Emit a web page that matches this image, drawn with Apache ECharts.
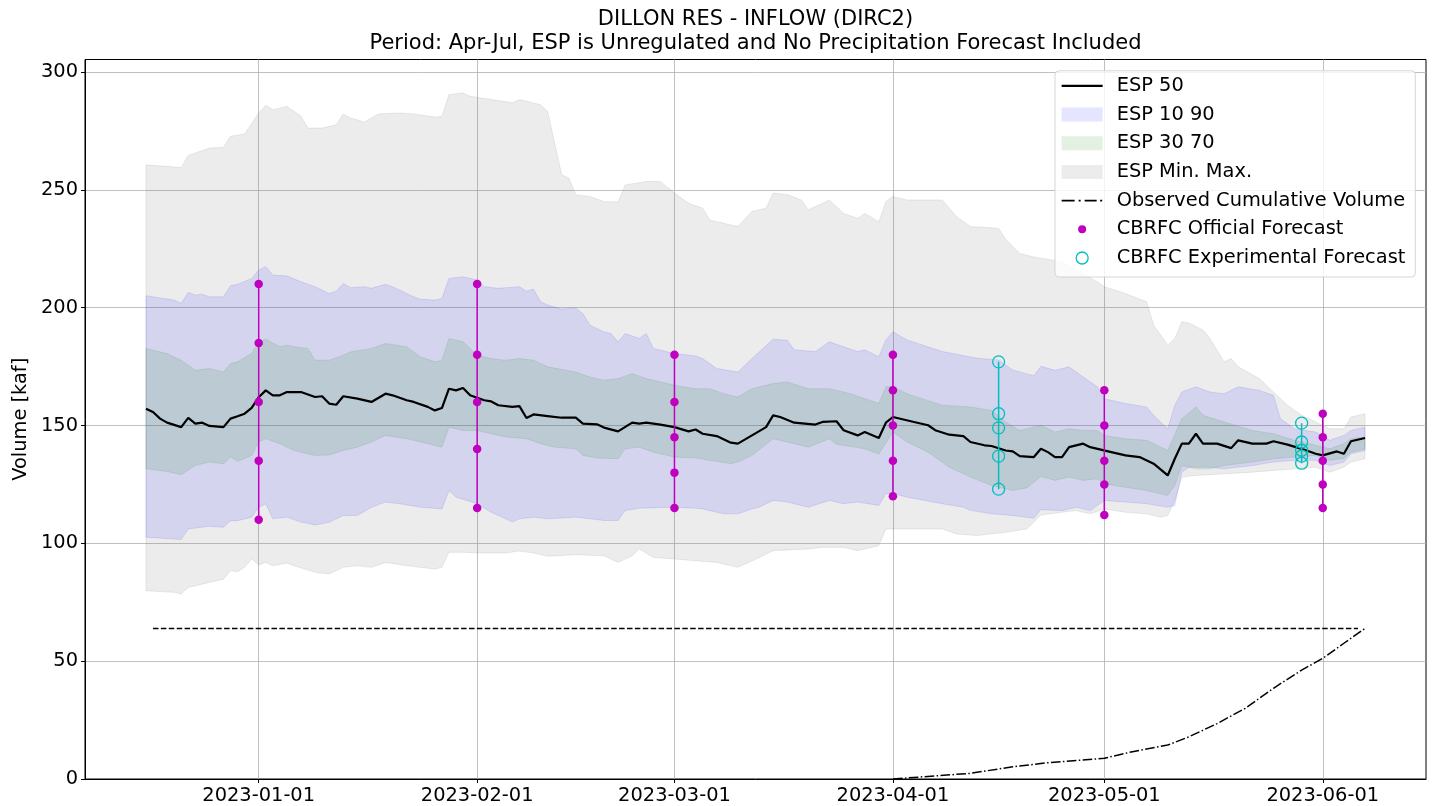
<!DOCTYPE html>
<html><head><meta charset="utf-8">
<script src="https://cdn.jsdelivr.net/npm/echarts@6/dist/echarts.min.js"></script>
<style>html,body{margin:0;padding:0;background:#fff;}#c{width:1433px;height:806px;}</style>
</head><body><div id="c"></div>
<script>
// ---------------- data ----------------
const monthTicks = ['2023-01-01','2023-02-01','2023-03-01','2023-04-01','2023-05-01','2023-06-01'];
const yTicks = [0,50,100,150,200,250,300];

const espMax = [['2022-12-16',260.6],['2022-12-21',259.5],['2022-12-22',264.6],['2022-12-25',267.7],['2022-12-27',268],['2022-12-28',272.7],['2022-12-30',273.7],['2023-01-01',282.6],['2023-01-02',285.9],['2023-01-03',284],['2023-01-05',285.4],['2023-01-06',283.3],['2023-01-07',281.2],['2023-01-08',276.2],['2023-01-10',276.2],['2023-01-12',277.6],['2023-01-13',282.2],['2023-01-14',280.5],['2023-01-16',278.8],['2023-01-18',282.2],['2023-01-21',282.6],['2023-01-23',282.2],['2023-01-26',280.9],['2023-01-27',281.2],['2023-01-28',290.4],['2023-01-30',291.1],['2023-01-31',289.7],['2023-02-03',288.3],['2023-02-06',286.9],['2023-02-07',288.3],['2023-02-10',286.1],['2023-02-11',283.3],['2023-02-13',256.4],['2023-02-14',255],['2023-02-15',247.9],['2023-02-17',247.2],['2023-02-19',245],['2023-02-21',244.8],['2023-02-22',252.1],['2023-02-25',253.5],['2023-02-27',253.5],['2023-03-01',248.6],['2023-03-03',244.3],['2023-03-05',242.2],['2023-03-06',237.2],['2023-03-08',235.8],['2023-03-10',234.4],['2023-03-12',240.8],['2023-03-14',242.2],['2023-03-15',248.6],['2023-03-17',248],['2023-03-19',245.7],['2023-03-20',241.5],['2023-03-23',245.7],['2023-03-25',240],['2023-03-27',237.9],['2023-03-28',240],['2023-03-30',236.5],['2023-03-31',245],['2023-04-01',247.2],['2023-04-03',245.7],['2023-04-08',245.7],['2023-04-10',238.7],['2023-04-12',234.4],['2023-04-16',233.7],['2023-04-17',229],['2023-04-19',223],['2023-04-21',221.5],['2023-04-25',219.5],['2023-04-30',211],['2023-05-01',208.9],['2023-05-04',206],['2023-05-07',202.5],['2023-05-08',192.6],['2023-05-10',184.1],['2023-05-11',186.9],['2023-05-12',194],['2023-05-13',193.5],['2023-05-15',190.5],['2023-05-16',186.9],['2023-05-18',177],['2023-05-19',178.4],['2023-05-20',174.9],['2023-05-23',169.9],['2023-05-25',164.2],['2023-05-27',158.6],['2023-05-29',154.3],['2023-05-31',151.5],['2023-06-02',148.6],['2023-06-04',148.6],['2023-06-05',153.6],['2023-06-07',155]];

const espMin = [['2022-12-16',79.9],['2022-12-20',79.2],['2022-12-21',78.5],['2022-12-22',81.3],['2022-12-25',83.4],['2022-12-27',84.8],['2022-12-28',88.4],['2022-12-29',88],['2022-12-30',89.8],['2022-12-31',93.4],['2023-01-01',90.8],['2023-01-02',91.9],['2023-01-03',90.5],['2023-01-05',91.6],['2023-01-06',90.5],['2023-01-09',87.7],['2023-01-11',87],['2023-01-13',89.8],['2023-01-15',90.5],['2023-01-17',89.8],['2023-01-19',91.9],['2023-01-22',90.5],['2023-01-26',89.1],['2023-01-27',89.8],['2023-01-28',96.2],['2023-01-30',96.2],['2023-02-01',95.9],['2023-02-05',95.9],['2023-02-07',96.7],['2023-02-09',95.9],['2023-02-11',94.5],['2023-02-15',95.2],['2023-02-19',94.7],['2023-02-21',91.9],['2023-02-23',94.7],['2023-02-24',97.6],['2023-02-26',94],['2023-03-01',93.4],['2023-03-04',92.6],['2023-03-07',91.9],['2023-03-10',89.8],['2023-03-12',92.5],['2023-03-15',96.9],['2023-03-20',97.6],['2023-03-22',98.3],['2023-03-25',98.3],['2023-03-27',96.9],['2023-03-30',99],['2023-03-31',106.1],['2023-04-02',106.1],['2023-04-08',106.1],['2023-04-10',104],['2023-04-13',103.3],['2023-04-17',104.7],['2023-04-20',106.1],['2023-04-22',112],['2023-04-25',113.2],['2023-04-27',113.9],['2023-04-29',112.5],['2023-05-01',114.6],['2023-05-04',113.2],['2023-05-07',112.5],['2023-05-09',111.1],['2023-05-10',111.8],['2023-05-11',118.2],['2023-05-12',128.1],['2023-05-14',128.8],['2023-05-18',129.5],['2023-05-22',130.2],['2023-05-25',130.9],['2023-05-28',131.6],['2023-05-31',132.3],['2023-06-02',130.2],['2023-06-04',132.3],['2023-06-05',134.5],['2023-06-07',135.9]];

const esp90 = [['2022-12-16',205.1],['2022-12-20',203.2],['2022-12-21',201.8],['2022-12-22',206.5],['2022-12-23',205.4],['2022-12-24',205.7],['2022-12-25',204.6],['2022-12-27',204.6],['2022-12-28',209.3],['2022-12-29',209.9],['2022-12-31',212.4],['2023-01-01',216],['2023-01-02',217.4],['2023-01-03',213.8],['2023-01-05',213.5],['2023-01-07',211],['2023-01-09',208.9],['2023-01-11',206],['2023-01-12',207],['2023-01-13',210.3],['2023-01-14',208.5],['2023-01-16',208.9],['2023-01-17',208.2],['2023-01-19',209.9],['2023-01-20',208.9],['2023-01-23',204.6],['2023-01-24',203.6],['2023-01-26',203.2],['2023-01-27',203.9],['2023-01-28',212.4],['2023-01-30',213.1],['2023-02-01',211.7],['2023-02-02',208.9],['2023-02-04',208.2],['2023-02-07',208.9],['2023-02-08',207],['2023-02-09',207.9],['2023-02-10',202.5],['2023-02-11',201.1],['2023-02-13',199.4],['2023-02-15',199.9],['2023-02-16',197.5],['2023-02-17',192.6],['2023-02-19',189.7],['2023-02-20',189],['2023-02-21',185.5],['2023-02-22',189],['2023-02-23',188],['2023-02-24',186.9],['2023-02-25',189],['2023-02-26',182.7],['2023-03-01',180.5],['2023-03-04',179.5],['2023-03-05',178.4],['2023-03-07',174.2],['2023-03-10',172.7],['2023-03-12',178.4],['2023-03-15',186.6],['2023-03-17',186.2],['2023-03-18',182.1],['2023-03-21',181.4],['2023-03-23',185.5],['2023-03-25',183.4],['2023-03-27',181.4],['2023-03-28',182.1],['2023-03-30',179.2],['2023-03-31',186.3],['2023-04-01',189.8],['2023-04-03',186.3],['2023-04-08',181.4],['2023-04-13',178.5],['2023-04-16',177.8],['2023-04-18',173.6],['2023-04-21',171.1],['2023-04-22',175.1],['2023-04-24',173.4],['2023-04-26',174.9],['2023-04-28',170.6],['2023-04-30',166.4],['2023-05-01',161.4],['2023-05-04',159.3],['2023-05-07',157.9],['2023-05-08',154.3],['2023-05-10',148.6],['2023-05-11',158.6],['2023-05-12',164.2],['2023-05-14',166.4],['2023-05-16',164.2],['2023-05-18',163.5],['2023-05-20',166.4],['2023-05-23',164.9],['2023-05-25',162.8],['2023-05-26',152.9],['2023-05-28',148.6],['2023-05-31',147.2],['2023-06-02',143.7],['2023-06-04',145.8],['2023-06-05',147.9],['2023-06-07',149.3]];

const esp10 = [['2022-12-16',102.6],['2022-12-21',101.6],['2022-12-22',106.1],['2022-12-25',107.2],['2022-12-27',106.8],['2022-12-28',109.6],['2022-12-29',109.6],['2022-12-31',111.1],['2023-01-01',115.3],['2023-01-02',116.8],['2023-01-03',110.4],['2023-01-05',111.1],['2023-01-07',109],['2023-01-09',107.8],['2023-01-11',108.9],['2023-01-13',111.8],['2023-01-15',111.8],['2023-01-17',115.3],['2023-01-19',117.5],['2023-01-21',116.8],['2023-01-24',115.3],['2023-01-27',114.6],['2023-01-28',122.4],['2023-01-29',119.6],['2023-02-01',116.8],['2023-02-03',113.2],['2023-02-05',110.4],['2023-02-06',109],['2023-02-07',110.4],['2023-02-09',111.1],['2023-02-11',110.4],['2023-02-15',111.1],['2023-02-17',110.4],['2023-02-19',109.7],['2023-02-21',109.7],['2023-02-22',113.9],['2023-02-24',114.9],['2023-03-01',115.3],['2023-03-04',114.9],['2023-03-05',114.6],['2023-03-08',112.5],['2023-03-10',112.5],['2023-03-12',114.6],['2023-03-13',115.3],['2023-03-15',118.2],['2023-03-17',117.5],['2023-03-20',115.3],['2023-03-23',118.2],['2023-03-25',116.8],['2023-03-27',117.5],['2023-03-30',116.1],['2023-03-31',121.1],['2023-04-01',121.1],['2023-04-03',119.6],['2023-04-08',116.8],['2023-04-11',115.3],['2023-04-12',114],['2023-04-15',112.5],['2023-04-18',111.8],['2023-04-21',110.6],['2023-04-22',114.3],['2023-04-25',113.9],['2023-04-27',115.3],['2023-04-29',113.9],['2023-05-01',118.2],['2023-05-04',117.5],['2023-05-07',116.8],['2023-05-10',115.3],['2023-05-11',116],['2023-05-12',130.2],['2023-05-13',132.3],['2023-05-16',132.3],['2023-05-18',131.6],['2023-05-22',133],['2023-05-25',134.5],['2023-05-28',135.2],['2023-05-31',135.2],['2023-06-02',133],['2023-06-04',134.5],['2023-06-05',138],['2023-06-07',139.4]];

const esp70 = [['2022-12-16',182.7],['2022-12-19',180.5],['2022-12-21',177.7],['2022-12-23',173.4],['2022-12-25',174.2],['2022-12-27',172.7],['2022-12-28',176.3],['2022-12-29',177],['2022-12-31',180.5],['2023-01-01',185.5],['2023-01-02',186.6],['2023-01-04',183.4],['2023-01-05',184.1],['2023-01-06',183.4],['2023-01-08',182.7],['2023-01-09',177.7],['2023-01-11',177.7],['2023-01-13',179.8],['2023-01-14',181.2],['2023-01-17',182.7],['2023-01-19',184.8],['2023-01-22',183.4],['2023-01-24',179.1],['2023-01-26',177],['2023-01-27',177.7],['2023-01-28',186.9],['2023-01-30',185.5],['2023-02-01',179.8],['2023-02-03',178.4],['2023-02-05',177.7],['2023-02-07',178.4],['2023-02-09',177.7],['2023-02-11',174.9],['2023-02-15',172.7],['2023-02-17',170.6],['2023-02-19',169.2],['2023-02-21',169.9],['2023-02-23',172],['2023-02-25',169.9],['2023-03-01',167.1],['2023-03-04',165.6],['2023-03-06',165.6],['2023-03-08',163.5],['2023-03-10',162.1],['2023-03-12',165.6],['2023-03-15',167.8],['2023-03-17',168.5],['2023-03-20',165.6],['2023-03-23',165.6],['2023-03-26',163.5],['2023-03-30',159.3],['2023-03-31',166.4],['2023-04-01',166.4],['2023-04-03',163.5],['2023-04-08',158.6],['2023-04-12',157.9],['2023-04-15',156.4],['2023-04-17',151.5],['2023-04-19',147.9],['2023-04-22',150.1],['2023-04-24',147.2],['2023-04-26',148.6],['2023-04-28',147.9],['2023-04-30',147.9],['2023-05-01',145.8],['2023-05-04',144.4],['2023-05-07',143.7],['2023-05-10',139.4],['2023-05-12',152.9],['2023-05-14',157.9],['2023-05-15',154.3],['2023-05-18',151.5],['2023-05-22',147.9],['2023-05-25',146.5],['2023-05-28',143.7],['2023-05-31',141.6],['2023-06-02',140.1],['2023-06-04',142.3],['2023-06-05',144.4],['2023-06-07',145.1]];

const esp30 = [['2022-12-16',131.6],['2022-12-19',130.5],['2022-12-21',129.1],['2022-12-23',133],['2022-12-25',134.5],['2022-12-27',133.8],['2022-12-28',136.6],['2022-12-29',134.7],['2022-12-31',137.3],['2023-01-01',143],['2023-01-02',144.4],['2023-01-04',142.3],['2023-01-06',139.4],['2023-01-09',137.3],['2023-01-11',137.5],['2023-01-13',139.4],['2023-01-15',140.8],['2023-01-17',143],['2023-01-19',145.8],['2023-01-22',144.4],['2023-01-24',143],['2023-01-27',140.8],['2023-01-28',149.3],['2023-01-30',147.9],['2023-02-01',147.9],['2023-02-03',146.5],['2023-02-05',145.1],['2023-02-08',144.4],['2023-02-10',142.3],['2023-02-12',140.8],['2023-02-15',140.1],['2023-02-16',137.3],['2023-02-18',136.2],['2023-02-21',135.9],['2023-02-22',140.1],['2023-02-24',140.8],['2023-02-26',138.7],['2023-03-01',136.6],['2023-03-04',136.2],['2023-03-06',135.2],['2023-03-09',133.8],['2023-03-10',134.5],['2023-03-12',137.3],['2023-03-15',144.4],['2023-03-17',143],['2023-03-20',140.8],['2023-03-23',144.4],['2023-03-24',142],['2023-03-28',140.1],['2023-03-30',137.9],['2023-04-01',147.2],['2023-04-03',143],['2023-04-06',138.7],['2023-04-09',132.3],['2023-04-12',128.1],['2023-04-15',124.5],['2023-04-18',122.4],['2023-04-20',123.5],['2023-04-22',128.4],['2023-04-24',126.7],['2023-04-26',128.1],['2023-04-28',126.7],['2023-04-30',127.4],['2023-05-01',125.2],['2023-05-04',123.8],['2023-05-07',122.4],['2023-05-10',120.3],['2023-05-11',124.5],['2023-05-12',133],['2023-05-14',131.6],['2023-05-16',131.6],['2023-05-18',133],['2023-05-22',134.5],['2023-05-25',135.9],['2023-05-28',136.6],['2023-05-31',137.3],['2023-06-02',135.2],['2023-06-04',136],['2023-06-05',138.7],['2023-06-07',140.1]];

const esp50 = [['2022-12-16',157.1],['2022-12-17',155.7],['2022-12-18',152.9],['2022-12-19',151.2],['2022-12-21',149.3],['2022-12-22',153.2],['2022-12-23',150.8],['2022-12-24',151.2],['2022-12-25',149.8],['2022-12-27',149.3],['2022-12-28',152.9],['2022-12-29',153.9],['2022-12-30',155],['2022-12-31',157.5],['2023-01-01',162],['2023-01-02',164.9],['2023-01-03',162.8],['2023-01-04',162.8],['2023-01-05',164.2],['2023-01-07',164.2],['2023-01-09',162.1],['2023-01-10',162.4],['2023-01-11',159.3],['2023-01-12',158.8],['2023-01-13',162.4],['2023-01-15',161.4],['2023-01-17',160],['2023-01-19',163.5],['2023-01-20',162.8],['2023-01-22',160.7],['2023-01-23',160],['2023-01-25',157.9],['2023-01-26',156.4],['2023-01-27',157.4],['2023-01-28',165.6],['2023-01-29',164.9],['2023-01-30',165.9],['2023-01-31',162.8],['2023-02-02',160.7],['2023-02-03',160.2],['2023-02-04',158.6],['2023-02-06',157.9],['2023-02-07',158.2],['2023-02-08',153.2],['2023-02-09',154.7],['2023-02-11',154],['2023-02-13',153.3],['2023-02-15',153.3],['2023-02-16',150.8],['2023-02-18',150.5],['2023-02-19',149.1],['2023-02-21',147.5],['2023-02-23',151.2],['2023-02-24',150.8],['2023-02-25',151.2],['2023-02-27',150.4],['2023-03-01',149.3],['2023-03-03',147.5],['2023-03-04',148.3],['2023-03-05',146.5],['2023-03-07',145.5],['2023-03-09',142.7],['2023-03-10',142.3],['2023-03-12',145.8],['2023-03-14',149.3],['2023-03-15',154.3],['2023-03-16',153.6],['2023-03-18',151.2],['2023-03-21',150.4],['2023-03-22',151.5],['2023-03-24',151.8],['2023-03-25',148],['2023-03-27',145.8],['2023-03-28',147.2],['2023-03-30',144.7],['2023-03-31',151.2],['2023-04-01',153.6],['2023-04-04',151.5],['2023-04-06',150.1],['2023-04-07',148],['2023-04-09',146.1],['2023-04-11',145.5],['2023-04-12',143],['2023-04-14',141.6],['2023-04-15',141.3],['2023-04-17',139.4],['2023-04-18',139],['2023-04-19',137],['2023-04-21',136.6],['2023-04-22',140.1],['2023-04-23',138.7],['2023-04-24',136.6],['2023-04-25',136.6],['2023-04-26',140.8],['2023-04-28',142.3],['2023-04-29',140.8],['2023-05-02',138.7],['2023-05-04',137.3],['2023-05-06',136.6],['2023-05-08',133.8],['2023-05-10',128.8],['2023-05-11',135.9],['2023-05-12',142.3],['2023-05-13',142.3],['2023-05-14',146.5],['2023-05-15',142.3],['2023-05-17',142.3],['2023-05-19',140.4],['2023-05-20',143.7],['2023-05-22',142.3],['2023-05-24',142.3],['2023-05-25',143.3],['2023-05-27',141.9],['2023-05-29',140.1],['2023-05-31',138],['2023-06-01',137.3],['2023-06-03',139],['2023-06-04',138],['2023-06-05',143.3],['2023-06-07',144.7]];

const observed = [['2023-04-01',0],['2023-04-12',2.4],['2023-04-18',5.2],['2023-04-23',6.9],['2023-05-01',8.8],['2023-05-05',11.6],['2023-05-10',14.4],['2023-05-13',17.9],['2023-05-17',23.5],['2023-05-21',30],['2023-05-25',38.5],['2023-05-29',46.2],['2023-06-01',51.2],['2023-06-04',57.6],['2023-06-07',63.9]];
const observedTotal = [['2022-12-17',63.9],['2023-06-06',63.9]];

const officialDates = ['2023-01-01','2023-02-01','2023-03-01','2023-04-01','2023-05-01','2023-06-01'];
const officialValues = [[210,185,160,135,110],[210,180,160,140,115],[180,160,145,130,115],[180,165,150,135,120],[165,150,135,125,112],[155,145,135,125,115]];
const experimentalDates = ['2023-04-16','2023-05-29'];
const experimentalValues = [[177,155,149,137,123],[151,143,139.5,137,134]];

// ---------------- helpers ----------------
function t(s){const p=s.split('-');return new Date(+p[0],+p[1]-1,+p[2]).getTime();}
const DAY=864e5;
const xMin=t('2022-12-16')-8.65*DAY, xMax=t('2023-06-07')+8.65*DAY;
const FONT='DejaVu Sans', FS=19.4;
function fmtDate(v){const d=new Date(v);return d.getFullYear()+'-'+String(d.getMonth()+1).padStart(2,'0')+'-'+String(d.getDate()).padStart(2,'0');}

function band(name, upper, lower, color, z){
  return {
    type:'custom', name:name, z:z, silent:true, animation:false,
    data:[[t(upper[0][0]), upper[0][1]]],
    renderItem:function(params, api){
      const pts=[];
      upper.forEach(p=>pts.push(api.coord([t(p[0]),p[1]])));
      for(let i=lower.length-1;i>=0;i--) pts.push(api.coord([t(lower[i][0]),lower[i][1]]));
      return {type:'polygon', shape:{points:pts}, style:{fill:color, stroke:color, lineWidth:1}};
    }
  };
}

const GRAY='rgba(128,128,128,0.15)', BLUE='rgba(0,0,255,0.1)', GREEN='rgba(0,128,0,0.11)';
const MAG='#bf00bf', CYAN='#00bfbf';

const series=[
  band('ESP Min. Max.', espMax, espMin, GRAY, 1),
  band('ESP 10 90', esp90, esp10, BLUE, 1),
  band('ESP 30 70', esp70, esp30, GREEN, 1),
  {type:'line', name:'ESP 50', z:3, data:esp50.map(p=>[t(p[0]),p[1]]), symbol:'none', lineStyle:{color:'#000',width:2.2}, itemStyle:{color:'#000'}, animation:false, silent:true},
  {type:'line', name:'Observed Total', z:3, data:observedTotal.map(p=>[t(p[0]),p[1]]), symbol:'none', lineStyle:{color:'#000',width:1.5,type:[5.5,2.4]}, animation:false, silent:true},
  {type:'line', name:'Observed Cumulative Volume', z:3, data:observed.map(p=>[t(p[0]),p[1]]), symbol:'none', lineStyle:{color:'#000',width:1.5,type:[9.6,2.4,1.5,2.4]}, itemStyle:{color:'#000'}, animation:false, silent:true}
];
officialDates.forEach((d,i)=>series.push({type:'line', name:'CBRFC Official Forecast', z:4, data:officialValues[i].map(v=>[t(d),v]), symbol:'circle', symbolSize:8.5, itemStyle:{color:MAG}, lineStyle:{color:MAG,width:1.5}, animation:false, silent:true}));
experimentalDates.forEach((d,i)=>series.push({type:'line', name:'CBRFC Experimental Forecast', z:4, data:experimentalValues[i].map(v=>[t(d),v]), symbol:'circle', symbolSize:12, itemStyle:{color:'rgba(0,0,0,0)',borderColor:CYAN,borderWidth:1.3}, lineStyle:{color:CYAN,width:1.5}, animation:false, silent:true}));

const ICON_LINE='path://M0,0M50,14M0,5.9L41,5.9L41,8.1L0,8.1Z';
const ICON_PATCH='path://M0,0L41,0L41,14L0,14ZM50,14';
const ICON_DASHDOT='path://M0,0M50,14M0,6.2L13,6.2L13,7.8L0,7.8ZM17,6.2L19,6.2L19,7.8L17,7.8ZM23,6.2L35,6.2L35,7.8L23,7.8ZM38.5,6.2L40.5,6.2L40.5,7.8L38.5,7.8Z';
const ICON_DOT='path://M0,0M50,14M16.5,7A4,4 0 1 1 24.5,7A4,4 0 1 1 16.5,7Z';
const ICON_RING='path://M0,0M50,14M14.5,7A6,6 0 1 1 26.5,7A6,6 0 1 1 14.5,7Z';
const noB={borderWidth:0,borderColor:'rgba(0,0,0,0)',opacity:1};

const chart=echarts.init(document.getElementById('c'),null,{renderer:'canvas'});
chart.setOption({
  animation:false,
  backgroundColor:'#fff',
  title:{text:'DILLON RES - INFLOW (DIRC2)\nPeriod: Apr-Jul, ESP is Unregulated and No Precipitation Forecast Included',
    left:755.5, textAlign:'center', top:7.4, padding:0,
    textStyle:{fontFamily:FONT,fontSize:21,fontWeight:'normal',color:'#000',lineHeight:24}},
  grid:{left:85,right:7,top:59.5,bottom:27,show:true,borderColor:'#000',borderWidth:1,backgroundColor:'transparent',containLabel:false,outerBoundsMode:'none'},
  legend:{orient:'vertical',left:1055,top:70.8,padding:[5,10,9,6],itemGap:8.7,itemWidth:50,itemHeight:14,
    backgroundColor:'rgba(255,255,255,0.8)',borderColor:'rgba(204,204,204,0.8)',borderWidth:1,borderRadius:4,
    selectedMode:false,
    textStyle:{fontFamily:FONT,fontSize:FS,color:'#000',lineHeight:20},
    data:[
      {name:'ESP 50',icon:ICON_LINE,itemStyle:Object.assign({color:'#000'},noB)},
      {name:'ESP 10 90',icon:ICON_PATCH,itemStyle:Object.assign({color:BLUE},noB)},
      {name:'ESP 30 70',icon:ICON_PATCH,itemStyle:Object.assign({color:GREEN},noB)},
      {name:'ESP Min. Max.',icon:ICON_PATCH,itemStyle:Object.assign({color:GRAY},noB)},
      {name:'Observed Cumulative Volume',icon:ICON_DASHDOT,itemStyle:Object.assign({color:'#000'},noB)},
      {name:'CBRFC Official Forecast',icon:ICON_DOT,itemStyle:Object.assign({color:MAG},noB)},
      {name:'CBRFC Experimental Forecast',icon:ICON_RING,itemStyle:{color:'rgba(0,0,0,0)',borderColor:CYAN,borderWidth:1.3,opacity:1}}
    ]},
  xAxis:{type:'value',min:xMin,max:xMax,scale:true,
    axisLine:{show:true,lineStyle:{color:'#000',width:1}},
    axisTick:{show:true,length:4,lineStyle:{color:'#000',width:1},customValues:monthTicks.map(t)},
    axisLabel:{customValues:monthTicks.map(t),formatter:fmtDate,margin:7,fontFamily:FONT,fontSize:FS,color:'#000',hideOverlap:false},
    splitLine:{show:true,lineStyle:{color:'#b0b0b0',width:0.8}}},
  yAxis:{type:'value',min:0,max:305.3,
    name:'Volume [kaf]',nameLocation:'middle',nameGap:55,nameTextStyle:{fontFamily:FONT,fontSize:FS,color:'#000'},
    axisLine:{show:true,lineStyle:{color:'#000',width:1}},
    axisTick:{show:true,length:4,lineStyle:{color:'#000',width:1},customValues:yTicks},
    axisLabel:{customValues:yTicks,margin:7,fontFamily:FONT,fontSize:FS,color:'#000'},
    splitLine:{show:true,lineStyle:{color:'#b0b0b0',width:0.8}}},
  series:series
});
</script></body></html>
